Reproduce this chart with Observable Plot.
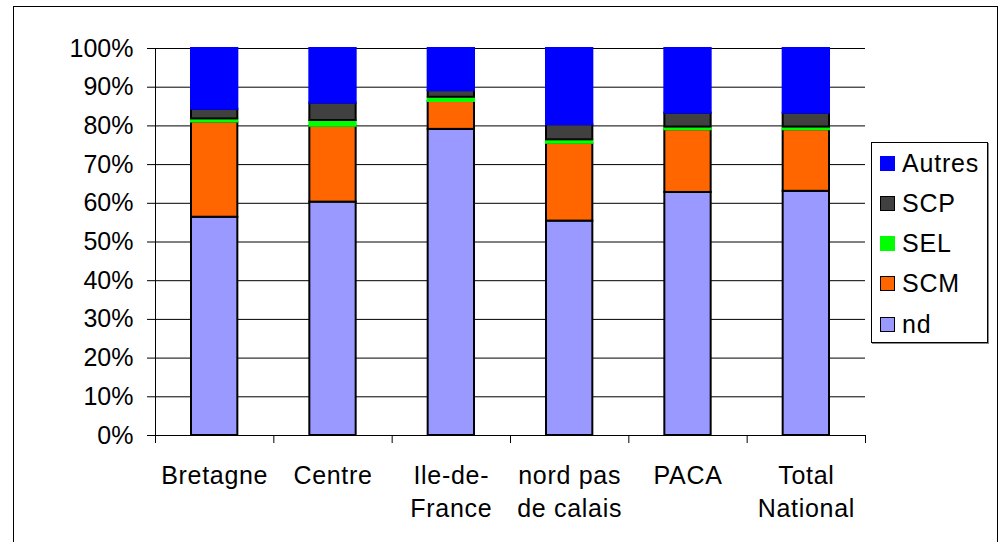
<!DOCTYPE html>
<html>
<head>
<meta charset="utf-8">
<script src="https://cdn.jsdelivr.net/npm/d3@7"></script>
<script src="https://cdn.jsdelivr.net/npm/@observablehq/plot@0.6"></script>
<style>
  html, body { margin: 0; padding: 0; background: #fff; }
  #wrap { position: relative; width: 999px; height: 542px; overflow: hidden; background: #fff;
          font-family: "Liberation Sans", Arial, sans-serif; }
  #frame { position: absolute; left: 13px; top: 6px; width: 985px; height: 600px; border: 1px solid #000; box-sizing: border-box; pointer-events: none; }
  #legend { position: absolute; left: 871px; top: 142px; width: 117px; height: 201px; border: 1px solid #000;
            box-sizing: border-box; background: #fff; box-shadow: 1px 1px 0 #888; }
  .item { position: absolute; left: 8px; height: 30px; display: flex; align-items: center; font-size: 25px; color: #000; letter-spacing: 0.8px; }
  .sw { width: 15px; height: 15px; box-sizing: border-box; margin-right: 7px; }
  #chart { position: absolute; left: 0; top: 0; }
  .xlab text { letter-spacing: 0.7px; }
</style>
</head>
<body>
<div id="wrap">
  <div id="chart"></div>
  <div id="frame"></div>
  <div id="legend"></div>
</div>
<script>
const categories = ["Bretagne", "Centre", "Ile-de-\nFrance", "nord pas\nde calais", "PACA", "Total\nNational"];
const seriesNames = ["nd", "SCM", "SEL", "SCP", "Autres"];
const nd     = [56.4, 60.3, 79.1, 55.4, 62.8, 63.1];
const SCM    = [24.6, 19.6,  7.2, 20.1, 16.2, 15.9];
const SEL    = [ 0.8,  1.5,  1.1,  0.9,  0.7,  0.7];
const SCP    = [ 2.5,  4.5,  1.7,  3.9,  3.6,  3.6];
const Autres = [15.7, 14.1, 10.9, 19.7, 16.7, 16.7];
const fills   = ["#9999FF", "#FF6600", "#00FF00", "#404040", "#0000FF"];
const strokes = ["#000000", "#000000", "#00FF00", "#000000", "#0000FF"];
const yTicks = [0, 10, 20, 30, 40, 50, 60, 70, 80, 90, 100];

const seriesValues = [nd, SCM, SEL, SCP, Autres];
const rows = [];
categories.forEach((c, i) => {
  seriesNames.forEach((s, k) => {
    rows.push({i, category: c, series: s, value: seriesValues[k][i], fill: fills[k], stroke: strokes[k]});
  });
});

const font = "Liberation Sans, Arial, sans-serif";
const chart = Plot.plot({
  width: 999,
  height: 542,
  marginLeft: 155,
  marginRight: 134,
  marginTop: 48,
  marginBottom: 107,
  style: {fontFamily: font, fontSize: "25px", color: "#000", background: "transparent", overflow: "visible"},
  x: {domain: [0, categories.length], axis: null},
  y: {domain: [0, 100], axis: null},
  color: {type: "identity"},
  marks: [
    Plot.gridY(yTicks, {stroke: "#000", strokeOpacity: 1, strokeWidth: 1}),
    Plot.rectY(rows, {
      x: "i", interval: 1, y: "value",
      fill: "fill", stroke: "stroke", strokeWidth: 2,
      insetLeft: 36, insetRight: 36
    }),
    Plot.ruleX([0], {stroke: "#000"}),
    Plot.ruleY([0], {stroke: "#000"}),
    Plot.axisY({ticks: yTicks, tickFormat: d => d + "%", tickSize: 8, tickPadding: 14,
                fontSize: 25, label: null, stroke: "#000"}),
    Plot.axisX({ticks: d3.range(0, categories.length + 1), tickSize: 8, tickFormat: () => "",
                label: null, stroke: "#000"}),
    Plot.axisX({ticks: categories.map((c, i) => i + 0.5), tickSize: 0, tickPadding: 25,
                tickFormat: d => categories[Math.floor(d)], lineHeight: 1.31, lineAnchor: "top",
                fontSize: 25, label: null, className: "xlab"})
  ]
});
document.getElementById("chart").appendChild(chart);

// legend (top to bottom: reverse stack order)
const legend = document.getElementById("legend");
const order = [4, 3, 2, 1, 0];
order.forEach((k, r) => {
  const item = document.createElement("div");
  item.className = "item";
  item.style.top = (5 + r * 40.25) + "px";
  const sw = document.createElement("div");
  sw.className = "sw";
  sw.style.background = fills[k];
  if (strokes[k] === "#000000") sw.style.border = "1.5px solid #000";
  const t = document.createElement("span");
  t.textContent = seriesNames[k];
  item.appendChild(sw);
  item.appendChild(t);
  legend.appendChild(item);
});
</script>
</body>
</html>
